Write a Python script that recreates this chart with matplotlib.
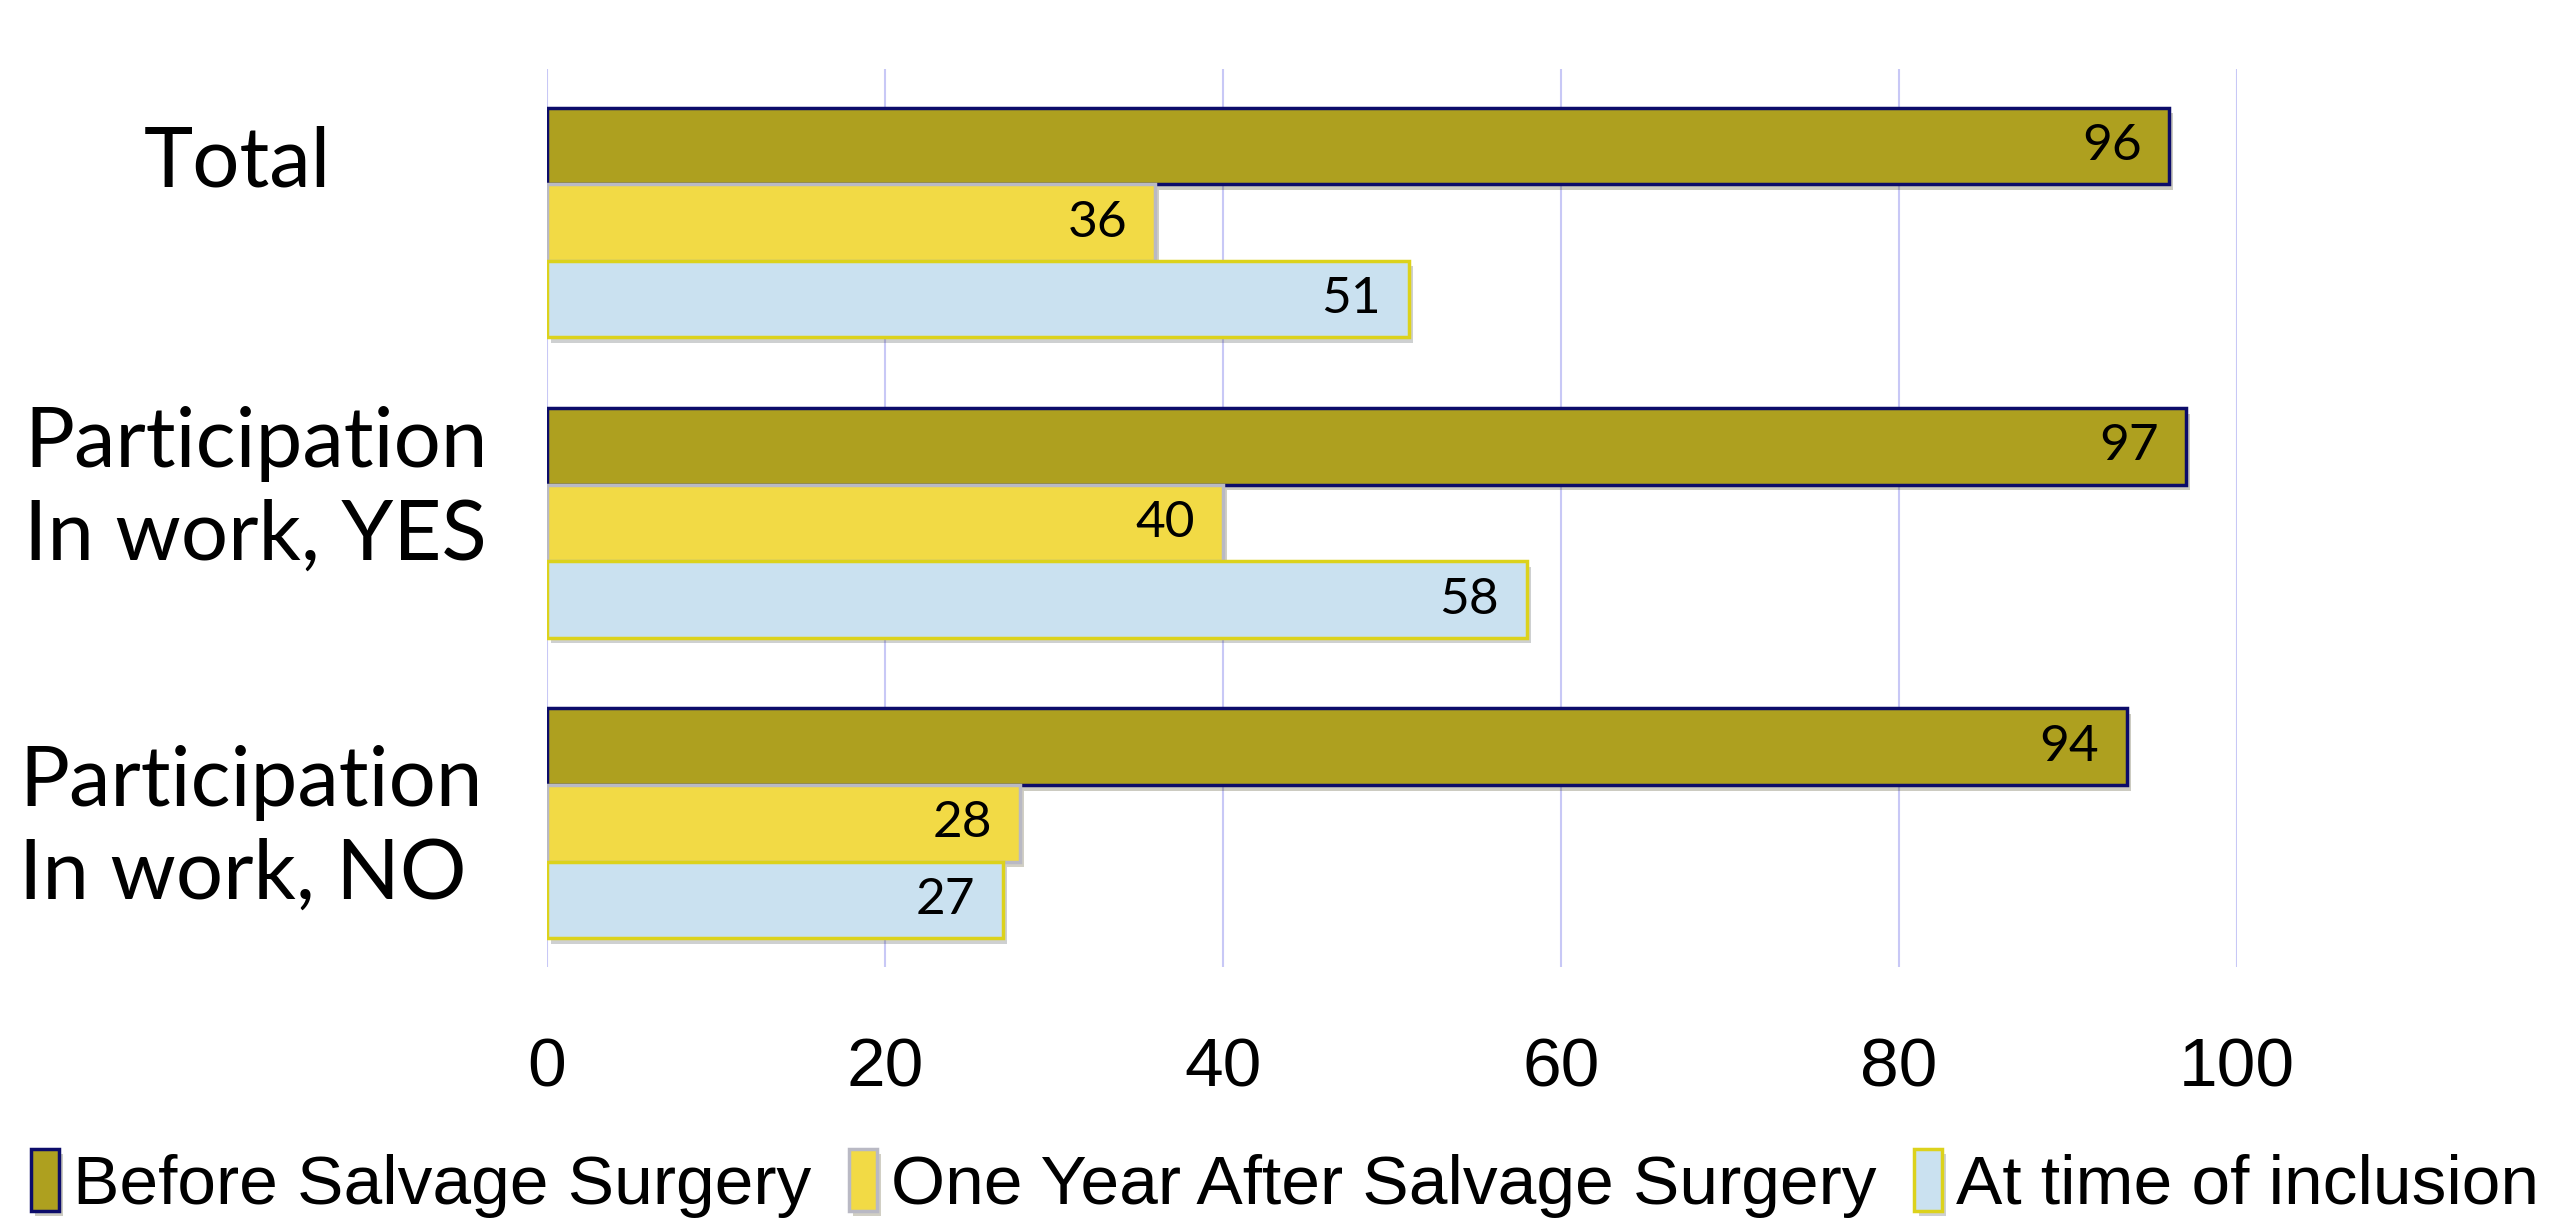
import matplotlib
matplotlib.use("Agg")
import numpy as np
import matplotlib.pyplot as plt
import matplotlib.patheffects as pe

categories = ["Total", "Participation\nIn work, YES", "Participation\nIn work, NO"]
series = ["Before Salvage Surgery", "One Year After Salvage Surgery", "At time of inclusion"]
before = [96, 97, 93.5]
one_year = [36, 40, 28]
inclusion = [51, 58, 27]
xticks = [0, 20, 40, 60, 80, 100]

colors = ["#AEA01F", "#F2DA45", "#CAE1F0"]
edges = ["#0C0C6A", "#B9B9C4", "#DCD21C"]
font = ["Liberation Sans", "DejaVu Sans"]
label_font = ["Lato", "DejaVu Sans"]

fig = plt.figure(figsize=(25.7, 12.26), dpi=100)
ax = fig.add_axes([0.2128, 0.2113, 0.6576, 0.7324])

h = 0.255
ypos = np.arange(len(categories))
shadow = [pe.SimplePatchShadow(offset=(3, -4), alpha=0.25), pe.Normal()]
handles = []
for k, vals in enumerate([before, one_year, inclusion]):
    bars = ax.barh(ypos + (k - 1) * h, vals, height=h, color=colors[k],
                   edgecolor=edges[k], linewidth=2.5, label=series[k], zorder=3)
    for b in bars:
        b.set_path_effects(shadow)
    handles.append(bars)
    for y, v in zip(ypos + (k - 1) * h, vals):
        ax.annotate(f"{v:.0f}", (v, y), xytext=(-20, 0), textcoords="offset points",
                    ha="right", va="center", fontsize=37, family=label_font, zorder=4)

ax.set_xlim(0, 100)
ax.set_ylim(2.478, -0.511)
ax.set_xticks(xticks)
ax.set_xticklabels([str(t) for t in xticks], family=font, fontsize=50)
ax.tick_params(axis="x", length=0, pad=50)
ax.set_yticks([])
ax.grid(axis="x", color="#C8C8F6", linewidth=1.5, zorder=0)
for s in ax.spines.values():
    s.set_visible(False)

# category labels, nudged as in the original
label_dy = [-0.196, -0.109, 0.02]
label_x = [-0.183, -0.172, -0.175]
for i, c in enumerate(categories):
    ax.text(label_x[i], ypos[i] + label_dy[i], c, transform=ax.get_yaxis_transform(),
            ha="center", va="center", multialignment="left", fontsize=60,
            linespacing=1.27, family=label_font)

leg = fig.legend(handles=handles, labels=series, loc="center",
                 bbox_to_anchor=(0.5, 0.035), ncol=3, frameon=False,
                 prop={"family": font, "size": 50},
                 handlelength=0.4, handleheight=1.0, handletextpad=0.2,
                 columnspacing=0.55, borderpad=0)

fig.savefig("out.png", dpi=100)
